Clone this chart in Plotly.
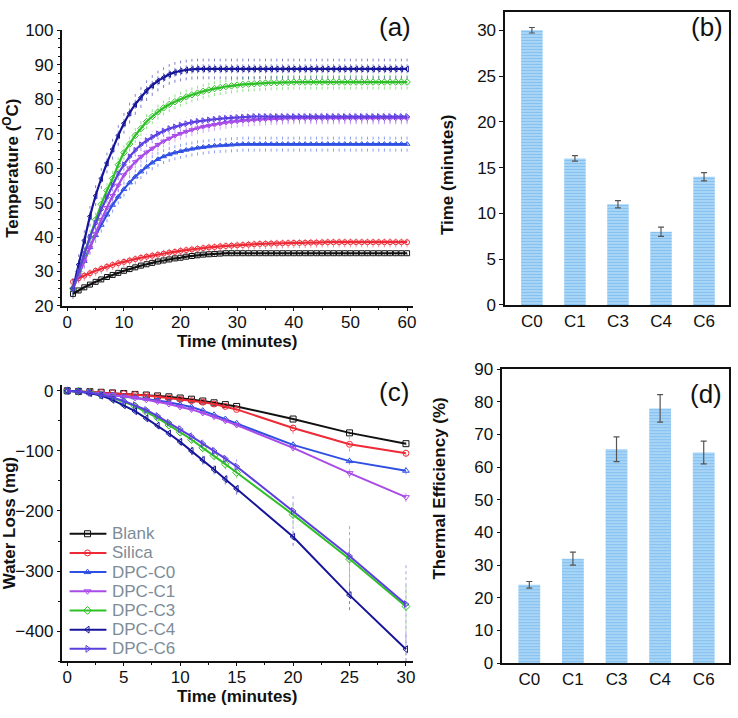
import plotly.graph_objects as go

FONT = "Liberation Sans, Arial, sans-serif"

# ---------------- Panel (a): temperature vs time ----------------
t_a = list(range(1, 61))
temp_blank = [23.5, 24.5, 25.4, 26.2, 27.0, 27.7, 28.4, 29.0, 29.6, 30.2,
              30.7, 31.2, 31.7, 32.1, 32.5, 32.9, 33.2, 33.5, 33.8, 34.0,
              34.3, 34.5, 34.7, 34.9, 35.0, 35.1, 35.2, 35.3, 35.3, 35.3,
              35.3, 35.3, 35.3, 35.3, 35.3, 35.3, 35.3, 35.3, 35.3, 35.3,
              35.3, 35.3, 35.3, 35.3, 35.3, 35.3, 35.3, 35.3, 35.3, 35.3,
              35.3, 35.3, 35.3, 35.3, 35.3, 35.3, 35.3, 35.3, 35.3, 35.3]
temp_silica = [27.0, 28.0, 28.8, 29.5, 30.2, 30.8, 31.4, 31.9, 32.4, 32.8,
               33.2, 33.6, 34.0, 34.3, 34.6, 34.9, 35.2, 35.5, 35.7, 36.0,
               36.2, 36.4, 36.6, 36.8, 37.0, 37.1, 37.3, 37.4, 37.5, 37.6,
               37.7, 37.8, 37.9, 38.0, 38.05, 38.1, 38.15, 38.2, 38.25, 38.3,
               38.3, 38.35, 38.4, 38.4, 38.45, 38.5, 38.5, 38.5, 38.5, 38.5,
               38.5, 38.5, 38.5, 38.5, 38.5, 38.5, 38.5, 38.5, 38.5, 38.5]
temp_c0 = [25.0, 29.0, 33.0, 37.0, 40.5, 43.5, 46.5, 49.3, 51.7, 53.9,
           55.8, 57.5, 59.0, 60.4, 61.6, 62.6, 63.4, 64.0, 64.5, 64.9,
           65.3, 65.6, 65.9, 66.1, 66.3, 66.5, 66.6, 66.7, 66.8, 66.9,
           67.0, 67.0, 67.0, 67.0, 67.0, 67.0, 67.0, 67.0, 67.0, 67.0,
           67.0, 67.0, 67.0, 67.0, 67.0, 67.0, 67.0, 67.0, 67.0, 67.0,
           67.0, 67.0, 67.0, 67.0, 67.0, 67.0, 67.0, 67.0, 67.0, 67.0]
temp_c1 = [25.0, 29.0, 33.0, 37.0, 41.0, 45.0, 48.5, 52.0, 55.0, 58.0,
           60.0, 61.8, 63.3, 64.6, 65.7, 66.8, 67.8, 68.6, 69.4, 70.0,
           70.6, 71.1, 71.6, 72.0, 72.3, 72.6, 72.9, 73.2, 73.4, 73.6,
           73.8, 73.9, 74.0, 74.1, 74.2, 74.3, 74.3, 74.4, 74.5, 74.5,
           74.5, 74.5, 74.5, 74.5, 74.5, 74.5, 74.5, 74.5, 74.5, 74.5,
           74.5, 74.5, 74.5, 74.5, 74.5, 74.5, 74.5, 74.5, 74.5, 74.5]
temp_c3 = [25.0, 30.0, 35.0, 40.0, 45.0, 49.5, 53.5, 57.0, 61.0, 64.5,
           67.0, 69.5, 71.5, 73.5, 75.0, 76.3, 77.5, 78.5, 79.3, 80.0,
           80.7, 81.3, 81.8, 82.3, 82.7, 83.1, 83.4, 83.7, 83.9, 84.1,
           84.3, 84.4, 84.5, 84.6, 84.7, 84.8, 84.8, 84.9, 84.9, 85.0,
           85.0, 85.0, 85.0, 85.0, 85.0, 85.0, 85.0, 85.0, 85.0, 85.0,
           85.0, 85.0, 85.0, 85.0, 85.0, 85.0, 85.0, 85.0, 85.0, 85.0]
temp_c4 = [25.0, 32.0, 39.0, 46.0, 52.0, 57.0, 61.5, 65.5, 69.5, 73.0,
           76.0, 78.5, 80.5, 82.5, 84.0, 85.3, 86.3, 87.2, 87.8, 88.2,
           88.5, 88.7, 88.8, 88.8, 88.8, 88.8, 88.8, 88.8, 88.8, 88.8,
           88.8, 88.8, 88.8, 88.8, 88.8, 88.8, 88.8, 88.8, 88.8, 88.8,
           88.8, 88.8, 88.8, 88.8, 88.8, 88.8, 88.8, 88.8, 88.8, 88.8,
           88.8, 88.8, 88.8, 88.8, 88.8, 88.8, 88.8, 88.8, 88.8, 88.8]
temp_c6 = [25.0, 30.0, 35.0, 40.0, 44.0, 48.0, 51.5, 55.0, 58.3, 61.0,
           63.3, 65.2, 66.8, 68.0, 69.0, 70.0, 70.8, 71.5, 72.0, 72.5,
           72.9, 73.3, 73.6, 73.8, 74.0, 74.2, 74.4, 74.5, 74.6, 74.7,
           74.8, 74.9, 75.0, 75.0, 75.0, 75.0, 75.0, 75.0, 75.0, 75.0,
           75.0, 75.0, 75.0, 75.0, 75.0, 75.0, 75.0, 75.0, 75.0, 75.0,
           75.0, 75.0, 75.0, 75.0, 75.0, 75.0, 75.0, 75.0, 75.0, 75.0]
temp_err = {"Blank": 0.8, "Silica": 1.5, "DPC-C0": 2.2, "DPC-C1": 1.8,
            "DPC-C3": 2.2, "DPC-C4": 3.0, "DPC-C6": 1.8}

# ---------------- Panel (b): time to plateau ----------------
bar_cats = ["C0", "C1", "C3", "C4", "C6"]
time_vals = [30.0, 16.0, 11.0, 8.0, 14.0]
time_err = [0.3, 0.3, 0.4, 0.5, 0.45]

# ---------------- Panel (c): water loss ----------------
t_c = [0, 1, 2, 3, 4, 5, 6, 7, 8, 9, 10, 11, 12, 13, 14, 15, 20, 25, 30]
wl_blank = [0, -1, -1.5, -2.5, -3.5, -4.5, -6, -7, -8.5, -10, -12, -14, -17, -20, -23, -26, -47, -70, -88]
wl_silica = [0, -1, -2, -3, -4, -5, -6.5, -8, -10, -12, -14, -16.5, -19, -22, -26, -31, -62, -89, -104]
wl_c0 = [0, -1, -3, -5, -7, -9, -11, -13, -16, -19, -23, -27, -33, -40, -47, -54, -90, -117, -133]
wl_c1 = [0, -1, -3, -5, -7, -10, -12, -15, -18, -22, -27, -31, -37, -43, -50, -57, -95, -137, -177]
wl_c3 = [0, -1, -3, -7, -12, -18, -26, -35, -45, -57, -69, -81, -95, -108, -122, -136, -206, -280, -359]
wl_c4 = [0, -1, -4, -8, -15, -24, -34, -46, -58, -71, -85, -100, -115, -131, -147, -163, -243, -340, -430]
wl_c6 = [0, -1, -3, -7, -11, -17, -24, -32, -42, -53, -64, -76, -88, -100, -113, -126, -200, -275, -355]
wl_err_blank = [0, 0.5, 0.5, 0.5, 0.5, 0.5, 0.5, 0.5, 0.5, 1, 1, 1, 1, 1, 1, 1, 2, 3, 3]
wl_err_silica = [0, 0.5, 0.5, 0.5, 0.5, 0.5, 1, 1, 1, 1, 2, 2, 2, 2, 3, 3, 10, 12, 6]
wl_err_c0 = [0, 0.5, 0.5, 1, 1, 1, 1, 2, 2, 2, 2, 3, 3, 3, 3, 4, 6, 6, 6]
wl_err_c1 = [0, 0.5, 0.5, 1, 1, 1, 1, 2, 2, 2, 3, 3, 3, 4, 4, 4, 6, 8, 8]
wl_err_c3 = [0, 0.5, 1, 1, 2, 2, 3, 3, 4, 4, 5, 6, 7, 8, 9, 10, 18, 35, 40]
wl_err_c4 = [0, 0.5, 1, 1, 2, 2, 3, 3, 4, 5, 6, 7, 8, 8, 9, 10, 15, 25, 30]
wl_err_c6 = [0, 0.5, 1, 1, 2, 2, 3, 3, 4, 5, 6, 7, 8, 9, 10, 12, 30, 55, 70]

# ---------------- Panel (d): thermal efficiency ----------------
eff_vals = [24.0, 32.0, 65.5, 78.0, 64.5]
eff_err = [1.0, 2.0, 3.8, 4.2, 3.5]

names = ["Blank", "Silica", "DPC-C0", "DPC-C1", "DPC-C3", "DPC-C4", "DPC-C6"]
colors = {"Blank": "#111111", "Silica": "#ee2a36", "DPC-C0": "#2f4fe3",
          "DPC-C1": "#a84be8", "DPC-C3": "#2fbf26", "DPC-C4": "#16159a",
          "DPC-C6": "#5b3fe0"}
err_colors = {"Blank": "rgba(60,60,60,0.6)", "Silica": "rgba(238,42,54,0.5)",
              "DPC-C0": "rgba(47,79,227,0.55)", "DPC-C1": "rgba(168,75,232,0.5)",
              "DPC-C3": "rgba(47,191,38,0.5)", "DPC-C4": "rgba(22,21,154,0.55)",
              "DPC-C6": "rgba(91,63,224,0.5)"}
symbols = {"Blank": "square-open", "Silica": "circle-open", "DPC-C0": "triangle-up-open",
           "DPC-C1": "triangle-down-open", "DPC-C3": "diamond-open",
           "DPC-C4": "triangle-left-open", "DPC-C6": "triangle-right-open"}
temp_data = {"Blank": temp_blank, "Silica": temp_silica, "DPC-C0": temp_c0,
             "DPC-C1": temp_c1, "DPC-C3": temp_c3, "DPC-C4": temp_c4, "DPC-C6": temp_c6}
wl_data = {"Blank": (wl_blank, wl_err_blank), "Silica": (wl_silica, wl_err_silica),
           "DPC-C0": (wl_c0, wl_err_c0), "DPC-C1": (wl_c1, wl_err_c1),
           "DPC-C3": (wl_c3, wl_err_c3), "DPC-C4": (wl_c4, wl_err_c4),
           "DPC-C6": (wl_c6, wl_err_c6)}

W, H = 738, 718
fig = go.Figure()


def dotted_errors(xs, ys, errs, color, xa, ya):
    """Dotted vertical error bars built from the data values and their errors."""
    ex, ey = [], []
    for xv, yv, e in zip(xs, ys, errs):
        if e <= 0:
            continue
        ex += [xv, xv, None]
        ey += [yv - e, yv + e, None]
    fig.add_trace(go.Scatter(x=ex, y=ey, mode="lines", showlegend=False, hoverinfo="skip",
                             line=dict(color=color, width=1, dash="dot"),
                             xaxis=xa, yaxis=ya))


# panel (a)
for n in names:
    dotted_errors(t_a, temp_data[n], [temp_err[n]] * len(t_a), err_colors[n], "x", "y")
for n in names:
    fig.add_trace(go.Scatter(
        x=t_a, y=temp_data[n], mode="lines+markers", name=n, showlegend=False,
        line=dict(color=colors[n], width=2.2, shape="spline"),
        marker=dict(symbol=symbols[n], size=5, color=colors[n], line=dict(width=1)),
        xaxis="x", yaxis="y"))

# panel (c)
for n in names:
    yv, ev = wl_data[n]
    dotted_errors(t_c, yv, ev, err_colors[n], "x3", "y3")
for n in names:
    yv, ev = wl_data[n]
    fig.add_trace(go.Scatter(
        x=t_c, y=yv, mode="lines+markers", name=n, showlegend=False,
        line=dict(color=colors[n], width=2),
        marker=dict(symbol=symbols[n], size=6, color=colors[n], line=dict(width=1)),
        xaxis="x3", yaxis="y3"))

# manual legend for panel (c) on a pixel-coordinate overlay axis
leg_x0, leg_x1, leg_xm, leg_tx = 70, 107, 88, 111
leg_y0, leg_dy = 539, 19.7
for i, n in enumerate(names):
    yy = leg_y0 + i * leg_dy
    fig.add_shape(type="line", xref="x5", yref="y5", x0=leg_x0, x1=leg_x1, y0=yy, y1=yy,
                  line=dict(color=colors[n], width=2))
    fig.add_trace(go.Scatter(x=[leg_xm], y=[yy], mode="markers", showlegend=False,
                             marker=dict(symbol=symbols[n], size=6, color=colors[n],
                                         line=dict(width=1)),
                             hoverinfo="skip", xaxis="x5", yaxis="y5"))
    fig.add_annotation(text=n, x=leg_tx, y=yy, xref="x5", yref="y5", showarrow=False,
                       xanchor="left", yanchor="middle",
                       font=dict(family=FONT, size=17, color="#7d8c97"))

bar_marker = dict(color="#a6d3f6",
                  pattern=dict(shape="-", fgcolor="#55a6e8", bgcolor="#b3dbf8",
                               size=3, solidity=0.5),
                  line=dict(width=0))

# panel (b)
fig.add_trace(go.Bar(x=bar_cats, y=time_vals, width=0.5, marker=bar_marker,
                     error_y=dict(type="data", array=time_err, color="#555555",
                                  thickness=1.2, width=3),
                     showlegend=False, xaxis="x2", yaxis="y2"))
# panel (d)
fig.add_trace(go.Bar(x=bar_cats, y=eff_vals, width=0.5, marker=bar_marker,
                     error_y=dict(type="data", array=eff_err, color="#555555",
                                  thickness=1.2, width=3),
                     showlegend=False, xaxis="x4", yaxis="y4"))

tickfont = dict(family=FONT, size=17, color="#111111")
titlefont = dict(family=FONT, size=17, color="#111111", weight="bold")
common_line = dict(showline=True, linecolor="#111111", linewidth=1.5,
                   ticks="outside", tickcolor="#111111", ticklen=3, tickwidth=1.2,
                   showgrid=False, zeroline=False, tickfont=tickfont)
box_common = dict(showline=True, mirror=True, linecolor="#111111", linewidth=1.5,
                  showgrid=False, zeroline=False, tickfont=tickfont)

fig.update_layout(
    width=W, height=H,
    margin=dict(l=0, r=0, t=0, b=0),
    paper_bgcolor="white", plot_bgcolor="rgba(0,0,0,0)",
    font=dict(family=FONT),
    showlegend=False,
    xaxis=dict(domain=[0.084, 0.5623], range=[-1, 61], tickvals=[0, 10, 20, 30, 40, 50, 60],
               minor=dict(dtick=5, ticks="outside", ticklen=2, tickcolor="#111111"),
               title=dict(text="Time (minutes)", font=titlefont, standoff=4),
               ticklabelstandoff=-3, anchor="y", **common_line),
    yaxis=dict(domain=[0.5752, 0.9694], range=[20, 100], dtick=10,
               minor=dict(dtick=2.5, ticks="outside", ticklen=2, tickcolor="#111111"),
               title=dict(text="Temperature (<sup>O</sup>C)", font=titlefont, standoff=4),
               anchor="x", **common_line),
    xaxis2=dict(domain=[0.6883, 0.9932], range=[-0.62, 4.58], anchor="y2", ticks="",
                **box_common),
    yaxis2=dict(domain=[0.5766, 0.9958], range=[0, 32], tickvals=[0, 5, 10, 15, 20, 25, 30],
                anchor="x2", ticks="outside", tickcolor="#111111", ticklen=4, **box_common),
    xaxis3=dict(domain=[0.084, 0.5623], range=[-0.5, 30.6], tickvals=[0, 5, 10, 15, 20, 25, 30],
                minor=dict(dtick=2.5, ticks="outside", ticklen=2, tickcolor="#111111"),
                title=dict(text="Time (minutes)", font=titlefont, standoff=4),
                ticklabelstandoff=-3, anchor="y3", **common_line),
    yaxis3=dict(domain=[0.0669, 0.4624], range=[-450, 10], tickvals=[0, -100, -200, -300, -400],
                minor=dict(dtick=50, ticks="outside", ticklen=2, tickcolor="#111111"),
                title=dict(text="Water Loss (mg)", font=titlefont, standoff=2),
                anchor="x3", **common_line),
    xaxis4=dict(domain=[0.6843, 0.9932], range=[-0.62, 4.58], anchor="y4", ticks="",
                **box_common),
    yaxis4=dict(domain=[0.0641, 0.4847], range=[0, 90], dtick=10,
                anchor="x4", ticks="outside", tickcolor="#111111", ticklen=4, **box_common),
    xaxis5=dict(domain=[0, 1], range=[0, W], visible=False, fixedrange=True, anchor="y5"),
    yaxis5=dict(domain=[0, 1], range=[H, 0], visible=False, fixedrange=True, anchor="x5"),
)

# y-axis titles of the bar panels (placed like the reference, off-centre)
for txt, px, py in [("Time (minutes)", 450, 170), ("Thermal Efficiency (%)", 442, 493)]:
    fig.add_annotation(text="<b>" + txt + "</b>", x=px, y=py, xref="x5", yref="y5",
                       textangle=-90, showarrow=False, xanchor="center", yanchor="middle",
                       font=dict(family=FONT, size=17, color="#111111"))

labels = [("(a)", 397, 18), ("(b)", 711, 18), ("(c)", 396, 393), ("(d)", 710, 395)]
for txt, px, py in labels:
    fig.add_annotation(text=txt, x=px / W, y=1 - py / H, xref="paper", yref="paper",
                       showarrow=False, font=dict(family=FONT, size=26, color="#111111"),
                       xanchor="center", yanchor="middle")

fig.write_html("out.html", config={"displayModeBar": False},
               post_script="document.body.style.margin='0';document.body.style.overflow='hidden';")
